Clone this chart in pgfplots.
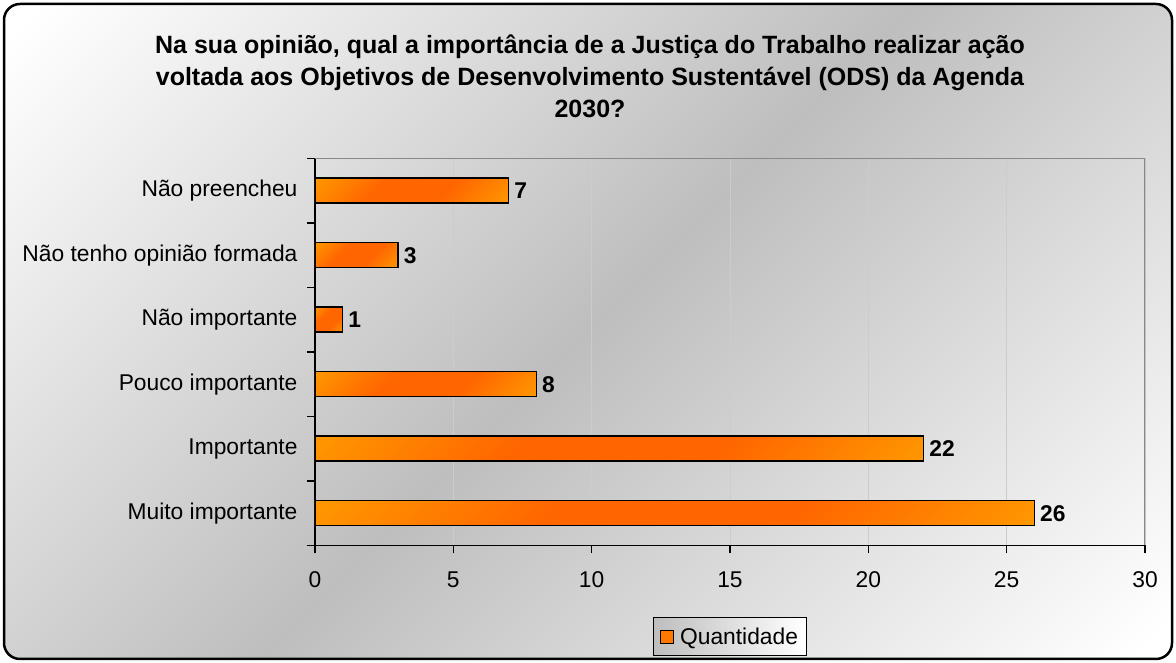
\documentclass[border=0pt]{standalone}
\usepackage{pgfplots}
\pgfplotsset{compat=1.18}
\usepackage{fontspec}
\setmainfont{Liberation Sans}
\definecolor{bggray}{RGB}{190,190,190}
\definecolor{barlight}{RGB}{255,153,0}
\definecolor{bardark}{RGB}{255,102,0}
\definecolor{framegray}{RGB}{136,136,136}
\pgfdeclarehorizontalshading{bgshade}{100bp}{color(0bp)=(white); color(16bp)=(white); color(50bp)=(bggray); color(84bp)=(white); color(100bp)=(white)}
\pgfdeclarehorizontalshading{barshade}{100bp}{color(0bp)=(barlight); color(14bp)=(barlight); color(38bp)=(bardark); color(62bp)=(bardark); color(86bp)=(barlight); color(100bp)=(barlight)}
\newcommand\lab{\fontsize{22.8}{27}\selectfont}
\newcommand\ttl{\fontsize{25}{32}\selectfont\bfseries}
\pgfplotsset{
  mybar/.style={xbar, bar width=25pt, bar shift=0pt, draw=black, line width=1.5pt,
    shade, shading=barshade, shading angle=-45,
    nodes near coords, nodes near coords align={horizontal},
    every node near coord/.append style={font=\lab\bfseries, text=black, inner sep=5pt},
    forget plot}
}
\begin{document}
\begin{tikzpicture}[x=1pt,y=1pt]
\fill[white] (0,0) rectangle (1176,663);
\shade[shading=bgshade, shading angle=-45, rounded corners=16pt] (4,4) rectangle (1172,659);
\draw[black, line width=2.5pt, rounded corners=16pt] (4,4) rectangle (1172,659);
\node[align=center, font=\ttl, anchor=center] at (590,587)
  {Na sua opinião, qual a importância de a Justiça do Trabalho realizar ação\\
   voltada aos Objetivos de Desenvolvimento Sustentável (ODS) da Agenda\\
   2030?};
\begin{axis}[
  at={(315pt,117.5pt)}, anchor=south west,
  scale only axis, width=830pt, height=387pt,
  xmin=0, xmax=30, ymin=-0.5, ymax=5.5,
  axis x line*=bottom, axis y line*=left,
  axis line style={-, line width=1.5pt, black},
  xtick={0,5,...,30},
  ytick={0,1,2,3,4,5},
  yticklabels={Muito importante, Importante, Pouco importante, Não importante, Não tenho opinião formada, Não preencheu},
  minor ytick={-0.5,0.5,...,5.5},
  major tick length=8pt, minor tick length=8pt, tick align=outside,
  major y tick style={draw=none},
  minor y tick style={draw=black, line width=1.5pt},
  major x tick style={draw=black, line width=1.5pt},
  xmajorgrids,
  grid style={draw=black!20, line width=1pt},
  /pgf/number format/assume math mode=true,
  xticklabel style={font=\lab, yshift=-15pt},
  yticklabel style={font=\lab, xshift=-6pt},
  legend style={at={(0.5,-0.2364)}, anchor=center, draw=black, line width=1pt,
    font=\lab, left color=bggray, right color=white, inner xsep=6pt, inner ysep=8pt},
]
\draw[framegray, line width=1.5pt] (rel axis cs:0,1) -- (rel axis cs:1,1) -- (rel axis cs:1,0);
\addplot[mybar] coordinates {(26,0)};
\addplot[mybar] coordinates {(22,1)};
\addplot[mybar] coordinates {(8,2)};
\addplot[mybar] coordinates {(1,3)};
\addplot[mybar] coordinates {(3,4)};
\addplot[mybar] coordinates {(7,5)};
\addlegendimage{legend image code/.code={\draw[fill={rgb,255:red,255;green,120;blue,0}, draw=black, line width=1.3pt] (2pt,-6.5pt) rectangle (15pt,6.5pt); \path (19pt,0pt);}}
\addlegendentry{Quantidade}
\end{axis}
\end{tikzpicture}
\end{document}
